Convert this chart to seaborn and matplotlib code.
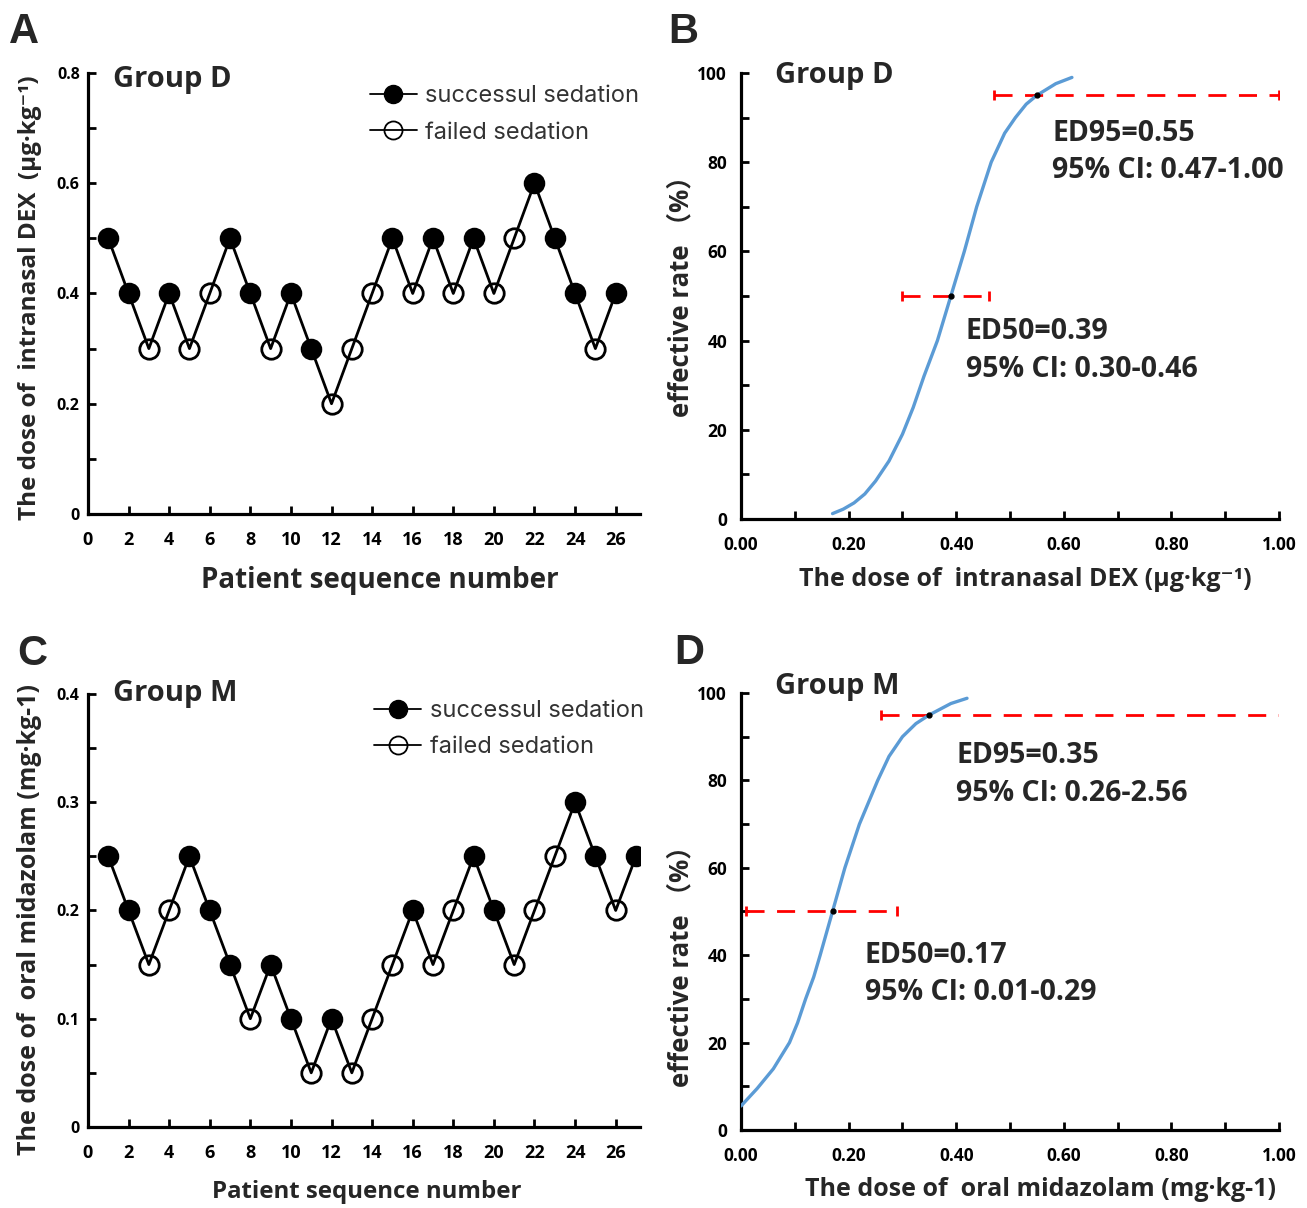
import numpy as np
import pandas as pd
import seaborn as sns
import matplotlib.pyplot as plt
from matplotlib.lines import Line2D

# panel A: Group D up-and-down sequence
a_patient = np.arange(1, 27)
a_dose = [0.5, 0.4, 0.3, 0.4, 0.3, 0.4, 0.5, 0.4, 0.3, 0.4, 0.3, 0.2, 0.3,
          0.4, 0.5, 0.4, 0.5, 0.4, 0.5, 0.4, 0.5, 0.6, 0.5, 0.4, 0.3, 0.4]
a_success = [1, 1, 0, 1, 0, 0, 1, 1, 0, 1, 1, 0, 0,
             0, 1, 0, 1, 0, 1, 0, 0, 1, 1, 1, 0, 1]

# panel C: Group M up-and-down sequence
c_patient = np.arange(1, 28)
c_dose = [0.25, 0.2, 0.15, 0.2, 0.25, 0.2, 0.15, 0.1, 0.15, 0.1, 0.05, 0.1, 0.05, 0.1,
          0.15, 0.2, 0.15, 0.2, 0.25, 0.2, 0.15, 0.2, 0.25, 0.3, 0.25, 0.2, 0.25]
c_success = [1, 1, 0, 0, 1, 1, 1, 0, 1, 1, 0, 1, 0, 0,
             0, 1, 0, 0, 1, 1, 0, 0, 0, 1, 1, 0, 1]

# panel B: dose-response curve, Group D
b_dose = [0.17, 0.19, 0.21, 0.23, 0.25, 0.275, 0.30, 0.32, 0.34, 0.365, 0.39,
          0.415, 0.438, 0.465, 0.49, 0.51, 0.53, 0.55, 0.585, 0.615]
b_rate = [1.2, 2.2, 3.6, 5.6, 8.5, 13, 19, 25, 32, 40, 50,
          60, 70, 80, 86.5, 90, 93, 95, 97.6, 99]
b_ed = [0.39, 0.55]
b_lo = [0.30, 0.47]
b_hi = [0.46, 1.00]

# panel D: dose-response curve, Group M
d_dose = [0.0, 0.03, 0.06, 0.09, 0.105, 0.12, 0.135, 0.147, 0.17, 0.193,
          0.22, 0.237, 0.254, 0.275, 0.30, 0.325, 0.35, 0.39, 0.42]
d_rate = [5.5, 9.5, 14, 20, 24.5, 30, 35, 40, 50, 60,
          70, 75, 80, 85.5, 90, 93, 95, 97.6, 98.8]
d_ed = [0.17, 0.35]
d_lo = [0.01, 0.26]
d_hi = [0.29, 2.56]

levels = [50, 95]

sns.set_theme(style="white")
plt.rcParams['font.family'] = ['Open Sans', 'DejaVu Sans', 'Noto Sans CJK SC']
plt.rcParams['axes.unicode_minus'] = False

fig = plt.figure(figsize=(13.07, 12.08), dpi=100)
axA = fig.add_axes([0.0673, 0.5745, 0.4224, 0.3651])
axB = fig.add_axes([0.567, 0.5704, 0.4116, 0.3692])
axC = fig.add_axes([0.0673, 0.0671, 0.4224, 0.3584])
axD = fig.add_axes([0.567, 0.0646, 0.4116, 0.3617])

CJK = ['Open Sans', 'Noto Sans CJK SC', 'DejaVu Sans']


def style_axes(ax, xpad, ypad, xsize, ysize):
    sns.despine(ax=ax)
    for s in ['left', 'bottom']:
        ax.spines[s].set_linewidth(2.3)
        ax.spines[s].set_color('black')
    ax.tick_params(direction='in', length=6, width=2, colors='black',
                   left=True, bottom=True)
    ax.tick_params(axis='x', pad=xpad, labelsize=xsize)
    ax.tick_params(axis='y', pad=ypad, labelsize=ysize)
    for t in ax.get_xticklabels() + ax.get_yticklabels():
        t.set_fontweight('bold')


def sequence_panel(ax, patient, dose, success, ymax, ystep, group, gy, xl_size, leg_x, leg_y):
    df = pd.DataFrame({'patient': patient, 'dose': dose, 'ok': success})
    sns.lineplot(data=df, x='patient', y='dose', color='black', lw=2, ax=ax, zorder=2)
    ok = df[df.ok == 1]
    bad = df[df.ok == 0]
    ax.plot(ok.patient, ok.dose, 'o', ms=14, mfc='black', mec='black', mew=1.5, zorder=3)
    ax.plot(bad.patient, bad.dose, 'o', ms=14, mfc='none', mec='black', mew=2, zorder=3)
    ax.set_xlim(0, 27.2)
    ax.set_ylim(0, ymax)
    ax.set_xticks(range(0, 27, 2))
    yt = np.round(np.arange(0, ymax + 1e-9, ystep), 3)
    ax.set_yticks(yt)
    ax.set_yticklabels([('0' if v == 0 else f'{v:g}') if i % 2 == 0 else ''
                        for i, v in enumerate(yt)])
    style_axes(ax, 12, 6, 13, 11.5)
    ax.set_xlabel('Patient sequence number', fontsize=xl_size, fontweight='bold')
    ax.text(0.045, gy, group, transform=ax.transAxes, fontsize=21, fontweight='bold',
            va='center', ha='left')
    handles = [Line2D([], [], color='black', lw=1.3, marker='o', ms=13, mfc='black', mec='black'),
               Line2D([], [], color='black', lw=1.3, marker='o', ms=13, mfc='none', mec='black', mew=1.3)]
    leg = ax.legend(handles, ['successul sedation', 'failed sedation'], loc='upper left',
                    bbox_to_anchor=(leg_x, leg_y), frameon=False, handlelength=2.0,
                    handletextpad=0.35, labelspacing=0.6, prop={'family': 'Inter', 'size': 17})
    for t in leg.get_texts():
        t.set_color('#333333')


sequence_panel(axA, a_patient, a_dose, a_success, 0.8, 0.1, 'Group D', 0.985, 20, 0.472, 1.02)
axA.set_ylabel('The dose of  intranasal DEX  (μg·kg⁻¹)', fontsize=17.5, fontweight='bold')
axA.yaxis.set_label_coords(-0.083, 0.49)
axA.xaxis.set_label_coords(0.529, -0.118)

sequence_panel(axC, c_patient, c_dose, c_success, 0.4, 0.05, 'Group M', 1.0, 17.3, 0.48, 1.035)
axC.set_ylabel('The dose of  oral midazolam (mg·kg-1)', fontsize=18, fontweight='bold')
axC.yaxis.set_label_coords(-0.083, 0.478)
axC.xaxis.set_label_coords(0.505, -0.122)


def curve_panel(ax, dose, rate, ed, lo, hi, group, gy, xlabel, txt_pos):
    df = pd.DataFrame({'dose': dose, 'rate': rate})
    sns.lineplot(data=df, x='dose', y='rate', color='#5B9BD5', lw=2.4, ax=ax, zorder=3)
    for e, l, h, lev in zip(ed, lo, hi, levels):
        eb = ax.errorbar(e, lev, xerr=[[e - l], [h - e]], fmt='none', ecolor='#FF0000',
                         elinewidth=2, capsize=3.5, capthick=2, zorder=2)
        eb[2][0].set_linestyle((0, (6.5, 4.5)))
        ax.plot(e, lev, 'o', color='black', ms=3.5, zorder=4)
    ax.set_xlim(0, 1.0)
    ax.set_ylim(0, 100)
    xt = np.round(np.arange(0, 1.01, 0.1), 1)
    ax.set_xticks(xt)
    ax.set_xticklabels([f'{v:.2f}' if i % 2 == 0 else '' for i, v in enumerate(xt)])
    ax.set_yticks(range(0, 101, 10))
    ax.set_yticklabels([str(v) if v % 20 == 0 else '' for v in range(0, 101, 10)])
    style_axes(ax, 12, 10, 12.5, 12.5)
    ax.set_xlabel(xlabel, fontsize=18, fontweight='bold', family=CJK)
    ax.set_ylabel('effective rate （%）', fontsize=18.5, fontweight='bold', family=CJK)
    ax.text(0.063, gy, group, transform=ax.transAxes, fontsize=21, fontweight='bold',
            va='center', ha='left')
    for (x, y1, y2), e, l, h, name in zip(txt_pos, ed, lo, hi, ['ED50', 'ED95']):
        ax.text(x, y1, f'{name}={e:.2f}', fontsize=20.5, fontweight='bold', va='center')
        ax.text(x, y2, f'95% CI: {l:.2f}-{h:.2f}', fontsize=20.5, fontweight='bold', va='center')


curve_panel(axB, b_dose, b_rate, b_ed, b_lo, b_hi, 'Group D', 0.995,
            'The dose of  intranasal DEX (μg·kg⁻¹)',
            [(0.418, 42.0, 33.4), (0.578, 86.5, 78.2)])
axB.yaxis.set_label_coords(-0.086, 0.513)
axB.xaxis.set_label_coords(0.528, -0.108)

curve_panel(axD, d_dose, d_rate, d_ed, d_lo, d_hi, 'Group M', 1.016,
            'The dose of  oral midazolam (mg·kg-1)',
            [(0.23, 40.0, 31.4), (0.40, 85.8, 77.1)])
axD.yaxis.set_label_coords(-0.086, 0.389)
axD.xaxis.set_label_coords(0.556, -0.108)

for x, y, s in [(0.007, 0.99, 'A'), (0.511, 0.99, 'B'), (0.013, 0.475, 'C'), (0.516, 0.476, 'D')]:
    fig.text(x, y, s, fontsize=30, fontweight='bold', va='top', ha='left', family='Liberation Sans')

fig.savefig('out.png', dpi=100, facecolor='white')
